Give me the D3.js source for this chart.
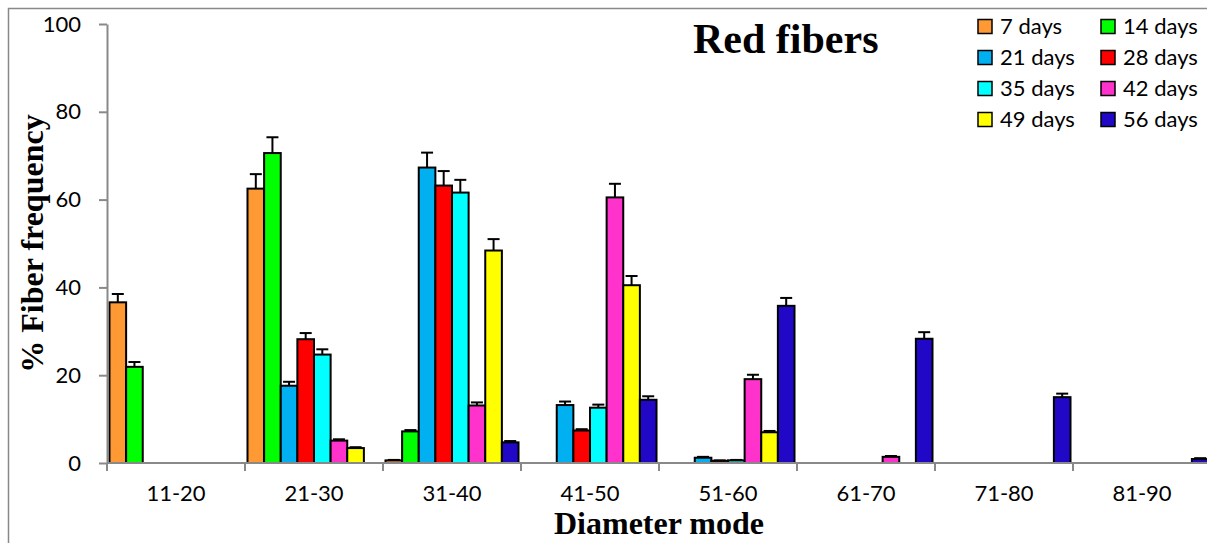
<!DOCTYPE html>
<html>
<head>
<meta charset="utf-8">
<script src="https://cdn.jsdelivr.net/npm/d3@7"></script>
<style>
  html, body { margin: 0; padding: 0; background: #fff; overflow: hidden; }
  svg { display: block; }
</style>
</head>
<body>
<svg id="chart" width="1207" height="543"></svg>
<script>
// Diameter classes (µm) on the x axis
const categories = ["11-20", "21-30", "31-40", "41-50", "51-60", "61-70", "71-80", "81-90"];
// Sampling ages, one series each
const seriesNames = ["7 days", "14 days", "21 days", "28 days", "35 days", "42 days", "49 days", "56 days"];
const seriesColors = ["#FF9933", "#00FF00", "#00B0F0", "#FF0000", "#00FFFF", "#FF33CC", "#FFFF00", "#2008C6"];

// % fiber frequency per diameter class
const days7  = [36.6, 62.5, 0.6, 0, 0, 0, 0, 0];
const days14 = [21.9, 70.6, 7.2, 0, 0, 0, 0, 0];
const days21 = [0, 17.6, 67.3, 13.2, 1.2, 0, 0, 0];
const days28 = [0, 28.2, 63.2, 7.4, 0.5, 0, 0, 0];
const days35 = [0, 24.7, 61.6, 12.6, 0.6, 0, 0, 0];
const days42 = [0, 5.1, 13.1, 60.5, 19.1, 1.4, 0, 0];
const days49 = [0, 3.4, 48.4, 40.5, 7.0, 0, 0, 0];
const days56 = [0, 0, 4.7, 14.4, 35.8, 28.3, 15.0, 0.9];

// Standard error (upper bar only)
const err7  = [1.9, 3.3, 0.1, 0, 0, 0, 0, 0];
const err14 = [1.1, 3.6, 0.3, 0, 0, 0, 0, 0];
const err21 = [0, 0.9, 3.4, 0.8, 0.2, 0, 0, 0];
const err28 = [0, 1.4, 3.3, 0.3, 0.1, 0, 0, 0];
const err35 = [0, 1.2, 2.9, 0.7, 0.1, 0, 0, 0];
const err42 = [0, 0.3, 0.7, 3.1, 1.0, 0.2, 0, 0];
const err49 = [0, 0.2, 2.6, 2.1, 0.3, 0, 0, 0];
const err56 = [0, 0, 0.3, 0.8, 1.8, 1.5, 0.8, 0.2];

const yTicks = [0, 20, 40, 60, 80, 100];

const seriesValues = [days7, days14, days21, days28, days35, days42, days49, days56];
const seriesErrors = [err7, err14, err21, err28, err35, err42, err49, err56];

// Layout
const plot = { left: 107, right: 1211, top: 24, bottom: 463 };
const axisGray = "#898989";
const tickFont = "Lato, 'Open Sans', sans-serif";
const serif = "'Liberation Serif', 'Times New Roman', serif";

const svg = d3.select("#chart");

// Outer frame (left and top edges visible)
svg.append("path")
  .attr("d", "M8.5,543 V8.5 H1207")
  .attr("fill", "none")
  .attr("stroke", axisGray)
  .attr("stroke-width", 1.5);

const x0 = d3.scaleBand().domain(categories).range([plot.left, plot.right]).paddingInner(0).paddingOuter(0);
const x1 = d3.scaleBand().domain(seriesNames).range([0, x0.bandwidth()]).paddingInner(0).paddingOuter(0.15);
const y = d3.scaleLinear().domain([0, 100]).range([plot.bottom, plot.top]);

// Flatten to one record per bar
const bars = [];
seriesNames.forEach((s, si) => {
  categories.forEach((c, ci) => {
    const v = seriesValues[si][ci];
    if (v > 0) bars.push({ series: s, cat: c, value: v, err: seriesErrors[si][ci], color: seriesColors[si] });
  });
});

const gBars = svg.append("g");
gBars.selectAll("rect").data(bars).join("rect")
  .attr("x", d => x0(d.cat) + x1(d.series))
  .attr("y", d => y(d.value))
  .attr("width", x1.bandwidth())
  .attr("height", d => y(0) - y(d.value))
  .attr("fill", d => d.color)
  .attr("stroke", "#000")
  .attr("stroke-width", 2);

// Upper error bars with caps
const gErr = svg.append("g").attr("stroke", "#000").attr("stroke-width", 2);
const withErr = bars.filter(d => d.err > 0);
gErr.selectAll("line.stem").data(withErr).join("line")
  .attr("class", "stem")
  .attr("x1", d => x0(d.cat) + x1(d.series) + x1.bandwidth() / 2)
  .attr("x2", d => x0(d.cat) + x1(d.series) + x1.bandwidth() / 2)
  .attr("y1", d => y(d.value))
  .attr("y2", d => y(d.value + d.err));
gErr.selectAll("line.cap").data(withErr).join("line")
  .attr("class", "cap")
  .attr("x1", d => x0(d.cat) + x1(d.series) + x1.bandwidth() / 2 - 6)
  .attr("x2", d => x0(d.cat) + x1(d.series) + x1.bandwidth() / 2 + 6)
  .attr("y1", d => y(d.value + d.err))
  .attr("y2", d => y(d.value + d.err));

// Y axis
const yAxis = svg.append("g")
  .attr("transform", `translate(${plot.left},0)`)
  .call(d3.axisLeft(y).tickValues(yTicks).tickSize(8).tickPadding(18).tickSizeOuter(0));
yAxis.select(".domain").attr("stroke", axisGray).attr("stroke-width", 2);
yAxis.selectAll(".tick line").attr("stroke", axisGray).attr("stroke-width", 2);
yAxis.selectAll(".tick text")
  .attr("fill", "#000").attr("font-family", tickFont).attr("font-size", 22);

// X axis: ticks at category boundaries, labels centered in each band
const xAxisG = svg.append("g").attr("transform", `translate(0,${plot.bottom})`);
xAxisG.append("line")
  .attr("x1", plot.left).attr("x2", plot.right)
  .attr("stroke", axisGray).attr("stroke-width", 2);
const boundaries = categories.map(c => x0(c)).concat([x0(categories[categories.length - 1]) + x0.bandwidth()]);
xAxisG.selectAll("line.tk").data(boundaries).join("line")
  .attr("class", "tk")
  .attr("x1", d => d).attr("x2", d => d)
  .attr("y1", 0).attr("y2", 8)
  .attr("stroke", axisGray).attr("stroke-width", 2);
xAxisG.selectAll("text").data(categories).join("text")
  .attr("x", d => x0(d) + x0.bandwidth() / 2)
  .attr("y", 30)
  .attr("dy", "0.35em")
  .attr("text-anchor", "middle")
  .attr("font-family", tickFont).attr("font-size", 22)
  .text(d => d);

// Axis titles
svg.append("text")
  .attr("x", (plot.left + plot.right) / 2)
  .attr("y", 534)
  .attr("text-anchor", "middle")
  .attr("font-family", serif).attr("font-weight", "bold").attr("font-size", 32)
  .text("Diameter mode");

svg.append("text")
  .attr("transform", `translate(43,${(plot.top + plot.bottom) / 2}) rotate(-90)`)
  .attr("text-anchor", "middle")
  .attr("font-family", serif).attr("font-weight", "bold").attr("font-size", 32)
  .text("% Fiber frequency");

// Chart title
svg.append("text")
  .attr("x", 693).attr("y", 53)
  .attr("font-family", serif).attr("font-weight", "bold").attr("font-size", 42)
  .text("Red fibers");

// Legend, two columns
const legendCols = [978, 1101];
const legendRows = [26.5, 57.5, 88.5, 119.5];
const legend = svg.append("g");
seriesNames.forEach((s, i) => {
  const lx = legendCols[i % 2], ly = legendRows[Math.floor(i / 2)];
  legend.append("rect")
    .attr("x", lx).attr("y", ly - 7).attr("width", 14).attr("height", 14)
    .attr("fill", seriesColors[i]).attr("stroke", "#000").attr("stroke-width", 1.5);
  legend.append("text")
    .attr("x", lx + 22).attr("y", ly).attr("dy", "0.35em")
    .attr("font-family", tickFont).attr("font-size", 22)
    .text(s);
});
</script>
</body>
</html>
